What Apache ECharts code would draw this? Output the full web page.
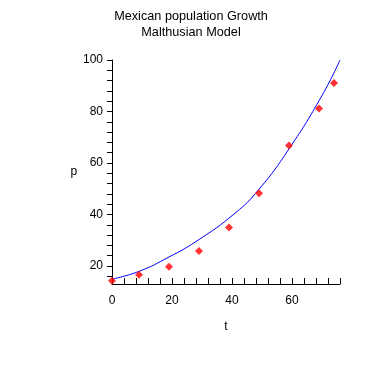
<!DOCTYPE html>
<html><head><meta charset="utf-8">
<script src="https://cdn.jsdelivr.net/npm/echarts@6/dist/echarts.min.js"></script>
<style>html,body{margin:0;padding:0;background:#fff}#c{width:382px;height:382px}</style>
</head><body><div id="c"></div>
<script>
// observed data (t = years since 1921, p = population in millions)
var obsT = [0, 9, 19, 29, 39, 49, 59, 69, 74];
var obsP = [14.3, 16.6, 19.7, 25.8, 34.9, 48.2, 66.8, 81.2, 91.1];
// Malthusian model curve
var modelT = [0, 9, 19, 28, 41, 49, 59, 70, 76];
var modelP = [14.9, 17.9, 23.5, 29.5, 40.5, 49.8, 65.5, 86.2, 100];
var xTicks = [0,4,8,12,16,20,24,28,32,36,40,44,48,52,56,60,64,68,72,76];
var xLabels = [0, 20, 40, 60];
var yTicks = [16,20,24,28,32,36,40,44,48,52,56,60,64,68,72,76,80,84,88,92,96,100];
var yLabels = [20, 40, 60, 80, 100];

var font = 'Liberation Sans';
var chart = echarts.init(document.getElementById('c'), null, {renderer: 'canvas'});
chart.setOption({
  animation: false,
  backgroundColor: '#fff',
  title: {
    text: 'Mexican population Growth\nMalthusian Model',
    left: 'center', top: 3,
    textStyle: {fontFamily: font, fontSize: 12.7, fontWeight: 'normal', color: '#000', lineHeight: 16}
  },
  grid: {left: 112, right: 42, top: 60, bottom: 98, containLabel: false},
  xAxis: {
    type: 'value', min: 0, max: 76,
    name: 't', nameLocation: 'middle', nameGap: 37,
    nameTextStyle: {fontFamily: font, fontSize: 12, color: '#000'},
    axisLine: {lineStyle: {color: '#000', width: 1}},
    axisTick: {inside: true, length: 6, lineStyle: {color: '#000'}, customValues: xTicks},
    axisLabel: {fontFamily: font, fontSize: 12, color: '#000', margin: 11, customValues: xLabels},
    splitLine: {show: false}
  },
  yAxis: {
    type: 'value', min: 13, max: 100,
    name: 'p', nameLocation: 'middle', nameGap: 33, nameRotate: 0,
    nameTextStyle: {fontFamily: font, fontSize: 12, color: '#000'},
    axisLine: {show: true, lineStyle: {color: '#000', width: 1}},
    axisTick: {show: true, inside: false, length: 5, lineStyle: {color: '#000'}, customValues: yTicks},
    axisLabel: {fontFamily: font, fontSize: 12, color: '#000', margin: 9, customValues: yLabels},
    splitLine: {show: false}
  },
  series: [
    {
      type: 'line',
      data: modelT.map(function (t, i) { return [t, modelP[i]]; }),
      smooth: true, showSymbol: false,
      lineStyle: {color: '#0000ff', width: 1},
      z: 2
    },
    {
      type: 'scatter',
      data: obsT.map(function (t, i) { return [t, obsP[i]]; }),
      symbol: 'diamond', symbolSize: 8,
      itemStyle: {color: '#ff0000'},
      z: 3
    }
  ]
});
</script></body></html>
